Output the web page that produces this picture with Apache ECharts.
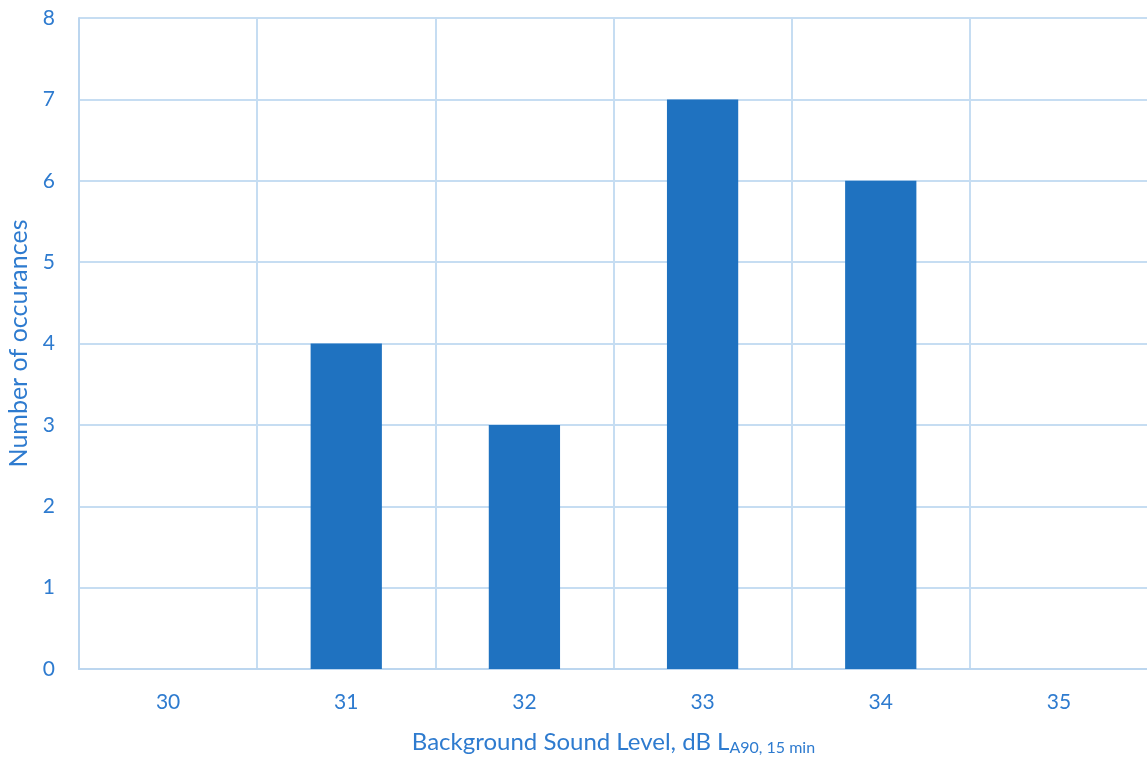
<!DOCTYPE html>
<html>
<head>
<meta charset="utf-8">
<script src="https://cdn.jsdelivr.net/npm/echarts@6/dist/echarts.min.js"></script>
<style>html,body{margin:0;padding:0;background:#fff}#c{width:1147px;height:760px}</style>
</head>
<body>
<div id="c"></div>
<script>
const categories = ['30', '31', '32', '33', '34', '35'];
const occurrences = [0, 4, 3, 7, 6, 0];
const yTicks = { min: 0, max: 8, interval: 1 };

const txt = '#2E7BCF';
const gridCol = '#C6DDF2';
const font = 'Lato, "Open Sans", sans-serif';
const chart = echarts.init(document.getElementById('c'));
chart.setOption({
  animation: false,
  grid: { left: 79, right: -1, top: 18, bottom: 91, containLabel: false, outerBoundsMode: 'none' },
  xAxis: {
    type: 'category',
    data: categories,
    boundaryGap: true,
    axisLine: { show: true, lineStyle: { color: '#BCD6EF', width: 2 } },
    axisTick: { show: false },
    axisLabel: { color: txt, fontSize: 21, fontFamily: font, margin: 23 },
    splitLine: { show: true, interval: 0, lineStyle: { color: gridCol, width: 2 } },
    name: '{m|Background Sound Level, dB L}{s|A90, 15 min}',
    nameLocation: 'middle',
    nameGap: 59,
    nameTextStyle: {
      rich: {
        m: { color: txt, fontSize: 24, fontFamily: font },
        s: { color: txt, fontSize: 16, fontFamily: font, verticalAlign: 'bottom', padding: [12, 0, 0, 0] }
      }
    }
  },
  yAxis: {
    type: 'value',
    min: yTicks.min, max: yTicks.max, interval: yTicks.interval,
    axisLine: { show: true, lineStyle: { color: '#BCD6EF', width: 2 } },
    axisTick: { show: false },
    axisLabel: { color: txt, fontSize: 21, fontFamily: font, margin: 24 },
    splitLine: { show: true, lineStyle: { color: gridCol, width: 2 } },
    name: 'Number of occurances',
    nameLocation: 'middle',
    nameGap: 44,
    nameTextStyle: { color: txt, fontSize: 25, fontFamily: font }
  },
  series: [{
    type: 'bar',
    data: occurrences,
    barWidth: '40%',
    itemStyle: { color: '#1F72C0' }
  }]
});
</script>
</body>
</html>
